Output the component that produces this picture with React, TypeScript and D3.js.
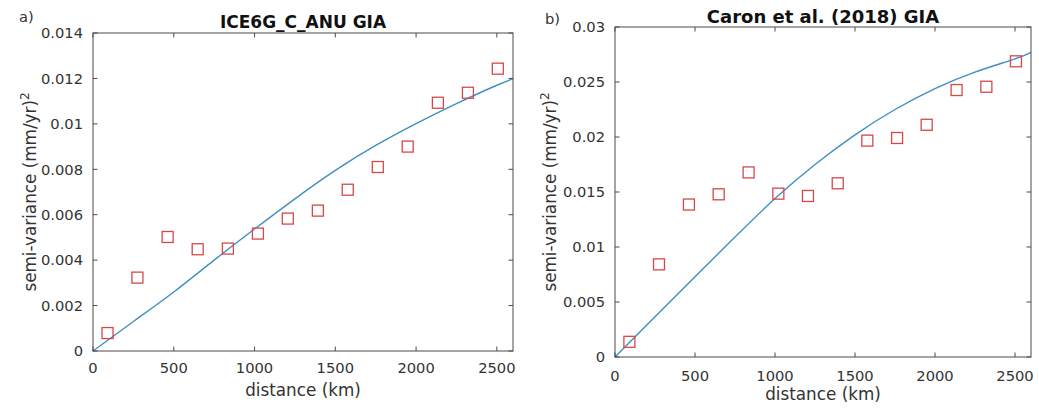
import React from "react";
import * as d3 from "d3";

// Panel a) ICE6G_C_ANU GIA
const distancesA = [90, 275, 462, 648, 835, 1021, 1206, 1392, 1577, 1763, 1948, 2135, 2321, 2506];
const semivarA = [0.00079, 0.00323, 0.00502, 0.00448, 0.00451, 0.00517, 0.00583, 0.00618, 0.0071, 0.0081, 0.009, 0.01093, 0.01137, 0.01243];
const modelDistA = [0, 250, 500, 750, 1000, 1250, 1500, 1750, 2000, 2250, 2500, 2600];
const modelA = [0, 0.0013, 0.0026, 0.004, 0.00537, 0.0067, 0.00795, 0.00905, 0.01001, 0.01089, 0.0117, 0.01198];
const yTicksA = [0, 0.002, 0.004, 0.006, 0.008, 0.01, 0.012, 0.014];

// Panel b) Caron et al. (2018) GIA
const distancesB = [90, 275, 462, 648, 835, 1021, 1206, 1392, 1577, 1763, 1948, 2135, 2321, 2506];
const semivarB = [0.00138, 0.00842, 0.01386, 0.01479, 0.01678, 0.01485, 0.01464, 0.01579, 0.01967, 0.01991, 0.02111, 0.02427, 0.02457, 0.02688];
const modelDistB = [0, 250, 500, 750, 1000, 1250, 1500, 1750, 2000, 2250, 2500, 2600];
const modelB = [0, 0.00365, 0.0073, 0.0109, 0.0144, 0.0175, 0.0202, 0.0225, 0.0244, 0.0259, 0.0271, 0.0277];
const yTicksB = [0, 0.005, 0.01, 0.015, 0.02, 0.025, 0.03];

const xTicks = [0, 500, 1000, 1500, 2000, 2500];

const FONT = "DejaVu Sans, sans-serif";
const AXIS = "#4a4a4a";
const TEXT = "#333333";
const LINE = "#3f8fbf";
const MARK = "#d64848";

type PanelProps = {
  left: number; right: number; top: number; bottom: number;
  yMax: number; yTicks: number[];
  dist: number[]; vals: number[]; mDist: number[]; mVals: number[];
  title: string; titleSize: number; titleGap: number;
  letter: string; letterX: number; letterY: number;
  yTitleX: number; xLabelGap: number; xTitleY: number;
};

function Panel(p: PanelProps) {
  const x = d3.scaleLinear().domain([0, 2600]).range([p.left, p.right]);
  const y = d3.scaleLinear().domain([0, p.yMax]).range([p.bottom, p.top]);
  const pts = p.mDist.map((d, i) => [d, p.mVals[i]] as [number, number]);
  const line = d3.line<[number, number]>().x(d => x(d[0])).y(d => y(d[1])).curve(d3.curveNatural);
  const tl = 4.5;
  const fmt = (v: number) => (v === 0 ? "0" : String(+v.toFixed(4)));
  const cx = (p.left + p.right) / 2;
  const cy = (p.top + p.bottom) / 2;
  return (
    <g>
      <path d={line(pts) || ""} fill="none" stroke={LINE} strokeWidth={1.4} />
      {p.dist.map((d, i) => (
        <rect key={i} x={x(d) - 5.5} y={y(p.vals[i]) - 5.5} width={11} height={11} fill="none" stroke={MARK} strokeWidth={1.3} />
      ))}
      <rect x={p.left} y={p.top} width={p.right - p.left} height={p.bottom - p.top} fill="none" stroke={AXIS} strokeWidth={1} />
      {xTicks.map(t => (
        <g key={"x" + t}>
          <line x1={x(t)} x2={x(t)} y1={p.bottom} y2={p.bottom - tl} stroke={AXIS} />
          <line x1={x(t)} x2={x(t)} y1={p.top} y2={p.top + tl} stroke={AXIS} />
          <text x={x(t)} y={p.bottom + p.xLabelGap} textAnchor="middle" fontSize={14.7} fill={TEXT} fontFamily={FONT}>{t}</text>
        </g>
      ))}
      {p.yTicks.map(t => (
        <g key={"y" + t}>
          <line x1={p.left} x2={p.left + tl} y1={y(t)} y2={y(t)} stroke={AXIS} />
          <line x1={p.right} x2={p.right - tl} y1={y(t)} y2={y(t)} stroke={AXIS} />
          <text x={p.left - 10} y={y(t) + 5.3} textAnchor="end" fontSize={14.7} fill={TEXT} fontFamily={FONT}>{fmt(t)}</text>
        </g>
      ))}
      <text x={cx} y={p.top - p.titleGap} textAnchor="middle" fontSize={p.titleSize} fontWeight="bold" fill="#111" fontFamily={FONT}>{p.title}</text>
      <text x={p.letterX} y={p.letterY} fontSize={14.7} fill={TEXT} fontFamily={FONT}>{p.letter}</text>
      <text x={cx} y={p.xTitleY} textAnchor="middle" fontSize={16.8} fill={TEXT} fontFamily={FONT}>distance (km)</text>
      <text transform={`translate(${p.yTitleX},${cy}) rotate(-90)`} textAnchor="middle" fontSize={16.8} fill={TEXT} fontFamily={FONT}>
        semi-variance (mm/yr)<tspan dy={-7} fontSize={12}>2</tspan>
      </text>
    </g>
  );
}

export default function App() {
  return (
    <svg width={1039} height={408} style={{ position: "absolute", left: 0, top: 0, background: "#fff" }}>
      <rect width={1039} height={408} fill="#fff" />
      <Panel left={93} right={513} top={33} bottom={351} yMax={0.014} yTicks={yTicksA}
        dist={distancesA} vals={semivarA} mDist={modelDistA} mVals={modelA}
        title="ICE6G_C_ANU GIA" titleSize={17} titleGap={5}
        letter="a)" letterX={19} letterY={22}
        yTitleX={36} xLabelGap={22} xTitleY={396} />
      <Panel left={615} right={1031} top={27} bottom={357} yMax={0.03} yTicks={yTicksB}
        dist={distancesB} vals={semivarB} mDist={modelDistB} mVals={modelB}
        title="Caron et al. (2018) GIA" titleSize={18} titleGap={4.5}
        letter="b)" letterX={545} letterY={24}
        yTitleX={556} xLabelGap={24} xTitleY={400} />
    </svg>
  );
}
